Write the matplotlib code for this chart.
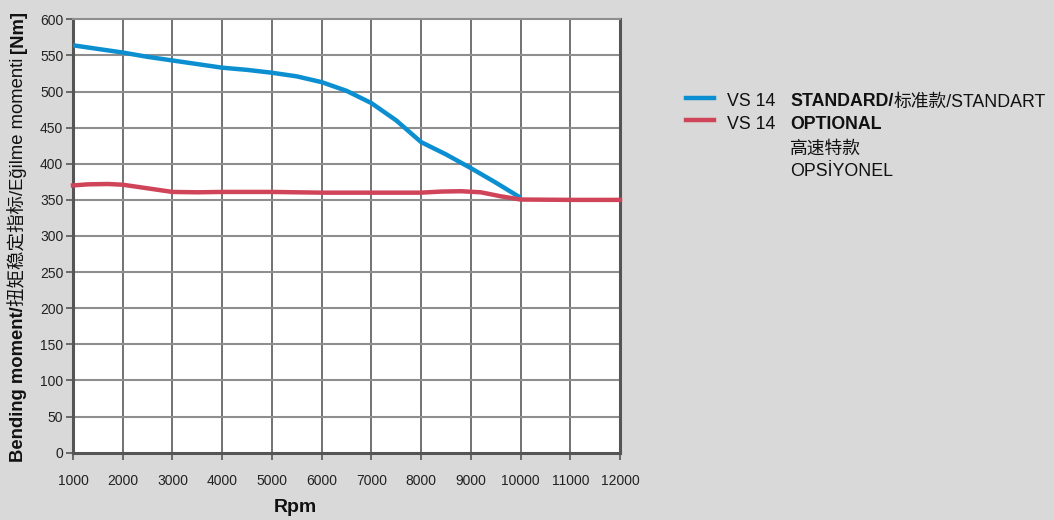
import matplotlib
matplotlib.use('Agg')
import matplotlib.pyplot as plt
from matplotlib.lines import Line2D

FONT = ['Liberation Sans', 'Noto Sans CJK SC', 'DejaVu Sans']
plt.rcParams['font.family'] = FONT

# data
rpm_std = [1000, 1500, 2000, 2500, 3000, 3500, 4000, 4500, 5000, 5500, 6000, 6500, 7000, 7500, 8000, 8500, 9000, 9500, 10000]
nm_std = [564, 559, 554, 548, 543, 538, 533, 530, 526, 521, 513, 501, 484, 460, 430, 413, 394, 374, 353]
rpm_opt = [1000, 1300, 1700, 2000, 2500, 3000, 3500, 4000, 5000, 6000, 7000, 8000, 8400, 8800, 9200, 9600, 10000, 11000, 12000]
nm_opt = [370, 371.5, 372, 371, 366, 361, 360.5, 361, 361, 360, 360, 360, 361.5, 362, 360.5, 355, 350.5, 350, 350]

x_ticks = list(range(1000, 12001, 1000))
y_ticks = list(range(0, 601, 50))

BLUE = '#0b8fd0'
RED = '#d0445a'
BG = '#d9d9d9'

W, H = 1054, 520
fig = plt.figure(figsize=(W / 100, H / 100), dpi=100, facecolor=BG)
ax = fig.add_axes([73 / W, 1 - 452.7 / H, (620 - 73) / W, (452.7 - 19.3) / H])
ax.set_facecolor('white')

ax.set_xlim(1000, 12000)
ax.set_ylim(0, 600)
ax.set_xticks(x_ticks)
ax.set_yticks(y_ticks)
ax.tick_params(axis='both', direction='out', length=5, width=1.2, color='#555555',
               labelsize=10, labelcolor='#222222')
ax.tick_params(axis='x', pad=10)
ax.tick_params(axis='y', pad=2)

for x in x_ticks[1:-1]:
    ax.axvline(x, color='#5a5a5a', lw=1.2, zorder=1)
for y in y_ticks[1:-1]:
    ax.axhline(y, color='#8e8e8e', lw=1.5, zorder=1)

for side in ['left', 'bottom', 'right']:
    ax.spines[side].set_color('#555555')
    ax.spines[side].set_linewidth(2.2)
ax.spines['top'].set_color('#8e8e8e')
ax.spines['top'].set_linewidth(1.5)

ax.plot(rpm_std, nm_std, color=BLUE, lw=3.2, solid_capstyle='butt', zorder=3)
ax.plot(rpm_opt, nm_opt, color=RED, lw=3.2, solid_capstyle='projecting', zorder=4, clip_on=False)

# x label
fig.text(295 / W, 1 - 508 / H, 'Rpm', fontsize=14, fontweight='bold', ha='center', va='center',
         color='#111111')

fig.canvas.draw()
renderer = fig.canvas.get_renderer()


def run_text(x, y, pieces, size, rotation=0, gap=0):
    # place text pieces one after another (pixel coordinates, origin bottom left)
    pos = x if rotation == 0 else y
    for txt, weight in pieces:
        if rotation == 0:
            t = fig.text(pos / W, y / H, txt, fontsize=size, fontweight=weight, ha='left',
                         va='baseline', color='#111111')
        else:
            t = fig.text(x / W, pos / H, txt, fontsize=size, fontweight=weight, ha='left',
                         va='baseline', rotation=90, rotation_mode='anchor', color='#111111')
        bb = t.get_window_extent(renderer)
        pos += (bb.width if rotation == 0 else bb.height) + gap


# y label
run_text(23, H - 462, [('Bending moment/', 'bold'), ('扭矩稳定指标/Eğilme momenti', 'normal'),
                        (' ', 'normal'), ('[Nm]', 'bold')], 13.3, rotation=90)

# legend
fig.add_artist(Line2D([686 / W, 714 / W], [1 - 98 / H, 1 - 98 / H], color=BLUE, lw=3.2))
fig.add_artist(Line2D([686 / W, 714 / W], [1 - 120 / H, 1 - 120 / H], color=RED, lw=3.2))
run_text(727, H - 106.5, [('VS 14', 'normal')], 12.8)
run_text(790, H - 106.5, [('STANDARD/', 'bold'), ('标准款/STANDART', 'normal')], 12.8)
run_text(727, H - 129, [('VS 14', 'normal')], 12.8)
run_text(790, H - 129, [('OPTIONAL', 'bold')], 12.8)
run_text(790, H - 154, [('高速特款', 'normal')], 12.8)
run_text(790, H - 176.5, [('OPSİYONEL', 'normal')], 12.8)

fig.savefig('out.png', dpi=100, facecolor=BG)
